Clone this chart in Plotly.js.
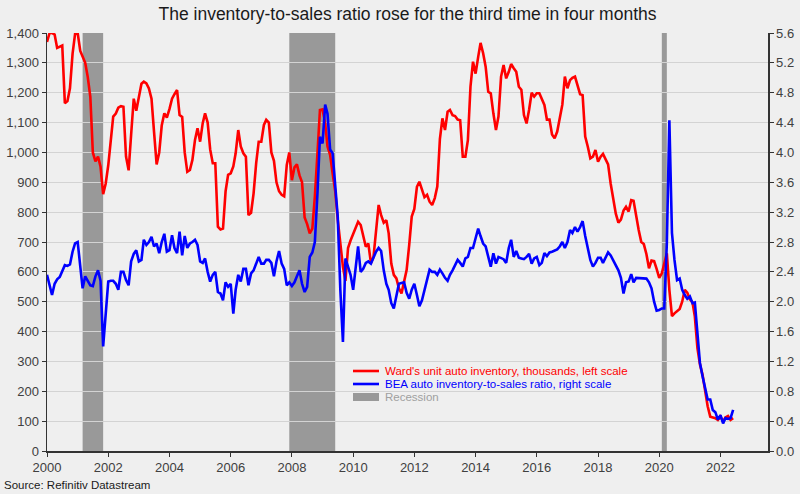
<!DOCTYPE html>
<html>
<head>
<meta charset="utf-8">
<script src="https://cdn.plot.ly/plotly-3.0.1.min.js"></script>
<style>
  html, body { margin: 0; padding: 0; background: #efefef; }
  #chart { width: 800px; height: 494px; }
</style>
</head>
<body>
<div id="chart"></div>
<script>
// Monthly data, Jan 2000 - Jun 2022
const startYear = 2000;

// Ward's unit auto inventory, thousands (left scale)
const inventory = [
  1370,1400,1400,1395,1350,1355,1358,1165,1172,1215,1330,1397, // 2000
  1400,1340,1320,1300,1253,1186,1000,970,986,952,860,895,      // 2001
  957,1040,1120,1130,1150,1155,1153,986,940,1060,1180,1140,    // 2002
  1180,1230,1237,1231,1214,1180,1070,960,1000,1090,1131,1117,  // 2003
  1145,1180,1195,1209,1125,1119,1000,935,941,975,1042,1081,    // 2004
  1036,1098,1131,1100,1010,964,964,751,742,745,870,925,        // 2005
  930,953,997,1075,1020,997,986,790,798,863,964,1036,          // 2006
  1036,1092,1109,1100,1000,972,900,870,858,853,958,1000,       // 2007
  907,950,960,923,900,782,760,729,745,852,997,1142,            // 2008
  1144,1098,1020,992,930,870,775,700,617,570,680,705,          // 2009
  729,750,768,757,720,684,695,630,651,750,824,790,             // 2010
  765,773,729,628,590,578,545,528,567,606,690,785,             // 2011
  811,885,902,875,850,858,835,824,847,886,1045,1114,           // 2012
  1075,1136,1142,1125,1122,1110,1108,986,986,1041,1220,1304,   // 2013
  1264,1320,1367,1332,1287,1203,1198,1131,1075,1120,1254,1293, // 2014
  1248,1270,1296,1282,1270,1220,1210,1125,1097,1142,1200,1187, // 2015
  1198,1198,1180,1159,1110,1110,1060,1047,1070,1120,1160,1254, // 2016
  1215,1242,1250,1254,1220,1195,1192,1053,1019,980,986,1008,   // 2017
  969,986,995,975,960,895,840,795,765,775,805,818,             // 2018
  802,840,838,785,740,700,693,660,612,638,636,610,             // 2019
  580,595,625,662,540,452,461,470,476,500,540,530,             // 2020
  508,498,450,345,290,255,195,150,115,112,110,104,             // 2021
  115,99,112,117,104,110                                       // 2022
];

// BEA auto inventory-to-sales ratio (right scale)
const ratio = [
  2.36,2.20,2.09,2.24,2.30,2.33,2.40,2.49,2.48,2.50,2.67,2.78, // 2000
  2.80,2.48,2.18,2.34,2.27,2.22,2.21,2.34,2.42,2.28,1.40,1.85, // 2001
  2.27,2.28,2.28,2.24,2.16,2.40,2.40,2.29,2.22,2.54,2.64,2.69, // 2002
  2.54,2.56,2.83,2.76,2.80,2.87,2.74,2.78,2.65,2.80,2.91,2.67, // 2003
  2.69,2.89,2.72,2.65,2.94,2.62,2.88,2.72,2.78,2.80,2.83,2.76, // 2004
  2.54,2.52,2.58,2.40,2.27,2.36,2.40,2.13,2.11,2.02,2.26,2.20, // 2005
  2.24,1.84,2.16,2.36,2.27,2.44,2.44,2.22,2.38,2.42,2.50,2.60, // 2006
  2.51,2.51,2.56,2.56,2.52,2.34,2.54,2.68,2.51,2.44,2.22,2.26, // 2007
  2.21,2.26,2.34,2.42,2.24,2.13,2.20,2.60,2.66,2.80,3.45,4.21, // 2008
  4.12,4.64,4.52,4.04,3.99,3.58,3.14,2.16,1.46,2.58,2.48,2.36, // 2009
  2.16,2.44,2.74,2.40,2.44,2.52,2.54,2.51,2.60,2.67,2.72,2.68, // 2010
  2.42,2.24,2.16,1.98,1.91,2.08,2.24,2.25,2.26,2.12,2.04,2.16, // 2011
  2.24,2.09,1.94,2.02,2.16,2.27,2.43,2.40,2.40,2.36,2.43,2.38, // 2012
  2.32,2.28,2.36,2.42,2.50,2.56,2.52,2.47,2.58,2.60,2.72,2.72, // 2013
  2.85,2.98,2.88,2.78,2.74,2.60,2.47,2.65,2.51,2.60,2.58,2.57, // 2014
  2.52,2.72,2.83,2.60,2.68,2.59,2.58,2.57,2.60,2.64,2.51,2.58, // 2015
  2.60,2.49,2.52,2.65,2.61,2.66,2.67,2.69,2.70,2.74,2.80,2.72, // 2016
  2.80,2.96,2.92,3.00,2.94,3.00,3.08,2.88,2.72,2.56,2.47,2.52, // 2017
  2.59,2.59,2.52,2.60,2.66,2.62,2.56,2.48,2.42,2.32,2.11,2.26, // 2018
  2.27,2.37,2.26,2.32,2.32,2.32,2.32,2.31,2.26,2.18,2.00,1.88, // 2019
  1.89,1.91,1.91,2.78,4.43,2.92,2.56,2.29,2.31,2.16,2.09,2.04, // 2020
  2.07,1.98,1.99,1.62,1.18,1.00,0.86,0.69,0.69,0.55,0.52,0.42, // 2021
  0.48,0.37,0.44,0.43,0.44,0.55                                // 2022
];

// Recession periods (start, end)
const recessionStarts = ['2001-03-01', '2007-12-01', '2020-02-01'];
const recessionEnds   = ['2001-11-01', '2009-06-01', '2020-04-01'];

const seriesNames = [
  "Ward's unit auto inventory, thousands, left scale",
  "BEA auto inventory-to-sales ratio, right scale",
  "Recession"
];
const seriesColors = ['#ff0000', '#0000ff', '#999999'];
const legendTextColors = ['#ff0000', '#0000ff', '#a0a0a0'];
const titleText = "The inventory-to-sales ratio rose for the third time in four months";
const sourceText = "Source: Refinitiv Datastream";

const leftRange = [0, 1400];
const rightRange = [0, 5.6];

function monthDate(i) {
  const y = startYear + Math.floor(i / 12);
  const m = (i % 12) + 1;
  return y + '-' + (m < 10 ? '0' + m : m) + '-01';
}
const datesInv = inventory.map((_, i) => monthDate(i));
const datesRatio = ratio.map((_, i) => monthDate(i));

// recession shading as shapes (drawn below the traces)
const shapes = recessionStarts.map((s, k) => ({
  type: 'rect', xref: 'x', yref: 'paper', layer: 'below',
  x0: s, x1: recessionEnds[k], y0: 0, y1: 1,
  fillcolor: seriesColors[2], line: { width: 0 }
}));

const traces = [
  {
    x: datesInv, y: inventory, type: 'scatter', mode: 'lines',
    line: { color: seriesColors[0], width: 2.6 },
    name: seriesNames[0], hoverinfo: 'skip'
  },
  {
    x: datesRatio, y: ratio, type: 'scatter', mode: 'lines', yaxis: 'y2',
    line: { color: seriesColors[1], width: 2.6 },
    name: seriesNames[1], hoverinfo: 'skip'
  }
];

// Manual compact legend (paper coordinates)
const legX0 = 0.4244, legX1 = 0.4605, legTextX = 0.466;
const legRowY = [0.1914, 0.1603, 0.1292];
const legFont = { family: 'Liberation Sans, Arial, sans-serif', size: 11.5 };

shapes.push(
  { type: 'line', xref: 'paper', yref: 'paper', x0: legX0, x1: legX1, y0: legRowY[0], y1: legRowY[0],
    line: { color: seriesColors[0], width: 2.6 } },
  { type: 'line', xref: 'paper', yref: 'paper', x0: legX0, x1: legX1, y0: legRowY[1], y1: legRowY[1],
    line: { color: seriesColors[1], width: 2.6 } },
  { type: 'rect', xref: 'paper', yref: 'paper', x0: legX0, x1: legX1, y0: legRowY[2] - 0.0096, y1: legRowY[2] + 0.0096,
    fillcolor: seriesColors[2], line: { width: 0 } }
);

const tickFont = { family: 'Liberation Sans, Arial, sans-serif', size: 13, color: '#404040' };

const annotations = seriesNames.map((n, k) => ({
  text: n, xref: 'paper', yref: 'paper', x: legTextX, y: legRowY[k],
  xanchor: 'left', yanchor: 'middle', showarrow: false,
  font: Object.assign({}, legFont, { color: legendTextColors[k] })
}));
annotations.push({
  text: sourceText, xref: 'paper', yref: 'paper',
  x: -0.062, y: -0.0815, xanchor: 'left', yanchor: 'middle', showarrow: false,
  font: { family: 'Liberation Sans, Arial, sans-serif', size: 11.5, color: '#1a1a1a' }
});

const layout = {
  width: 800, height: 494,
  paper_bgcolor: '#efefef', plot_bgcolor: '#efefef',
  margin: { l: 47, r: 32, t: 33, b: 43 },
  title: {
    text: titleText,
    font: { family: 'Liberation Sans, Arial, sans-serif', size: 17.5, color: '#1a1a1a' },
    x: 0.5, xanchor: 'center', y: 0.972, yanchor: 'middle', xref: 'paper'
  },
  showlegend: false,
  xaxis: {
    type: 'date',
    range: ['2000-01-01', '2023-07-22'],
    tick0: '2000-01-01', dtick: 'M24', tickformat: '%Y',
    showgrid: false, zeroline: false,
    showline: true, linecolor: '#333333', linewidth: 1.5,
    ticks: 'outside', ticklen: 4, tickcolor: '#333333',
    tickfont: tickFont
  },
  yaxis: {
    range: leftRange, dtick: 100, tickformat: ',d',
    showgrid: true, gridcolor: '#d3d3d3', gridwidth: 1,
    zeroline: false,
    showline: true, linecolor: '#333333', linewidth: 1.5,
    ticks: 'outside', ticklen: 4, tickcolor: '#333333',
    tickfont: tickFont
  },
  yaxis2: {
    overlaying: 'y', side: 'right',
    range: rightRange, dtick: 0.4, tickformat: '.1f',
    showgrid: false, zeroline: false,
    showline: true, linecolor: '#333333', linewidth: 1.5,
    ticks: 'outside', ticklen: 4, tickcolor: '#333333',
    tickfont: tickFont
  },
  shapes: shapes,
  annotations: annotations
};

Plotly.newPlot('chart', traces, layout, { staticPlot: true, displayModeBar: false });
</script>
</body>
</html>
